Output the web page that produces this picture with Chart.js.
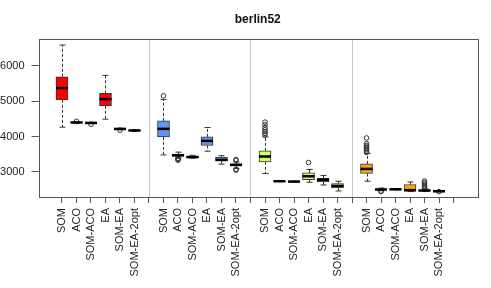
<!DOCTYPE html>
<html>
<head>
<meta charset="utf-8">
<script src="https://cdn.jsdelivr.net/npm/chart.js@4/dist/chart.umd.min.js"></script>
<style>
  html, body { margin: 0; padding: 0; background: #fff; }
  #wrap { width: 491px; height: 288px; }
</style>
</head>
<body>
<div id="wrap"><canvas id="chart" width="491" height="288"></canvas></div>
<script>
// methods per group, 4 groups (one colour each)
const methods = ['SOM', 'ACO', 'SOM-ACO', 'EA', 'SOM-EA', 'SOM-EA-2opt'];
const groupColors = ['#FF0000', '#6495ED', '#CAFF70', '#FFA500'];
const yTicks = [3000, 4000, 5000, 6000];

// box stats, 24 boxes in group order
const whiskerLow  = [4265, 4375, 4365, 4491, 4195, 4145,
                     3481, 3400, 3390, 3586, 3220, 3100,
                     2955, 2730, 2716, 2708, 2632, 2462,
                     2737, 2470, 2492, 2450, 2450, 2438];
const q1          = [5038, 4388, 4375, 4868, 4205, 4162,
                     3991, 3445, 3405, 3747, 3310, 3170,
                     3283, 2734, 2722, 2785, 2717, 2547,
                     2955, 2492, 2502, 2460, 2465, 2447];
const median      = [5369, 4398, 4385, 5057, 4215, 4172,
                     4217, 3470, 3420, 3877, 3340, 3200,
                     3436, 2737, 2728, 2878, 2774, 2604,
                     3085, 2505, 2510, 2485, 2475, 2454];
const q3          = [5689, 4408, 4392, 5219, 4224, 4182,
                     4443, 3500, 3438, 3991, 3420, 3230,
                     3594, 2741, 2734, 2972, 2822, 2672,
                     3226, 2518, 2518, 2645, 2490, 2460];
const whiskerHigh = [6586, 4420, 4400, 5728, 4235, 4192,
                     5049, 3560, 3470, 4256, 3460, 3280,
                     3990, 2745, 2740, 3068, 2898, 2737,
                     3521, 2545, 2528, 2717, 2520, 2470];
const outliers    = [[], [4430], [4345], [], [4180], [],
                     [5151], [3330, 3360, 3385], [], [], [], [3050, 3075, 3330, 3350],
                     [4040, 4090, 4140, 4190, 4250, 4330, 4407], [], [], [3266], [], [],
                     [3550, 3590, 3630, 3670, 3710, 3750, 3800, 3960], [2445, 2460], [], [], [2545, 2580, 2620, 2660, 2700, 2745], [2444]];

// position of box i on the x axis: 6 boxes then one empty slot per group
const posOf = i => Math.floor(i / 6) * 7 + (i % 6) + 1;

const boxes = median.map((m, i) => ({ x: posOf(i), y: [q1[i], q3[i]] }));
const boxColors = median.map((m, i) => groupColors[Math.floor(i / 6)]);
const outlierPts = [];
outliers.forEach((list, i) => list.forEach(v => outlierPts.push({ x: posOf(i), y: v })));

const BOX_W = 12;

const boxplotPlugin = {
  id: 'boxplot',
  beforeDatasetsDraw(chart) {
    const { ctx, chartArea, scales: { x, y } } = chart;
    ctx.save();
    // grey separators between groups
    ctx.strokeStyle = '#c8c8c8';
    ctx.lineWidth = 1;
    [7, 14, 21].forEach(p => {
      const px = Math.round(x.getPixelForValue(p)) + 0.5;
      ctx.beginPath();
      ctx.moveTo(px, chartArea.top);
      ctx.lineTo(px, chartArea.bottom);
      ctx.stroke();
    });
    // whiskers + staples
    ctx.strokeStyle = '#333';
    median.forEach((m, i) => {
      const px = Math.round(x.getPixelForValue(posOf(i))) + 0.5;
      const yl = y.getPixelForValue(whiskerLow[i]);
      const yq1 = y.getPixelForValue(q1[i]);
      const yq3 = y.getPixelForValue(q3[i]);
      const yh = y.getPixelForValue(whiskerHigh[i]);
      ctx.setLineDash([3, 2]);
      ctx.beginPath();
      ctx.moveTo(px, yq3); ctx.lineTo(px, yh);
      ctx.moveTo(px, yq1); ctx.lineTo(px, yl);
      ctx.stroke();
      ctx.setLineDash([]);
      ctx.beginPath();
      ctx.moveTo(px - BOX_W / 4, yh); ctx.lineTo(px + BOX_W / 4, yh);
      ctx.moveTo(px - BOX_W / 4, yl); ctx.lineTo(px + BOX_W / 4, yl);
      ctx.stroke();
    });
    ctx.restore();
  },
  afterDatasetsDraw(chart) {
    const { ctx, chartArea, scales: { x, y } } = chart;
    ctx.save();
    ctx.strokeStyle = '#000';
    ctx.lineWidth = 2.5;
    median.forEach((m, i) => {
      const px = x.getPixelForValue(posOf(i));
      const py = y.getPixelForValue(m);
      ctx.beginPath();
      ctx.moveTo(px - BOX_W / 2, py);
      ctx.lineTo(px + BOX_W / 2, py);
      ctx.stroke();
    });
    // plot frame
    ctx.strokeStyle = '#555';
    ctx.lineWidth = 1;
    ctx.strokeRect(Math.round(chartArea.left) + 0.5, Math.round(chartArea.top) + 0.5,
      Math.round(chartArea.right - chartArea.left), Math.round(chartArea.bottom - chartArea.top));
    ctx.restore();
  }
};

new Chart(document.getElementById('chart'), {
  type: 'bar',
  data: {
    datasets: [{
      label: 'box',
      data: boxes,
      backgroundColor: boxColors,
      borderColor: '#333',
      borderWidth: 1,
      borderSkipped: false,
      barThickness: BOX_W
    }, {
      type: 'scatter',
      label: 'outliers',
      data: outlierPts,
      pointStyle: 'circle',
      pointRadius: 2.3,
      backgroundColor: 'rgba(0,0,0,0)',
      borderColor: '#333',
      borderWidth: 1
    }]
  },
  plugins: [boxplotPlugin],
  options: {
    responsive: false,
    animation: false,
    devicePixelRatio: 1,
    layout: { padding: { top: 0.6, right: 14, left: 0, bottom: 0 } },
    plugins: {
      legend: { display: false },
      tooltip: { enabled: false },
      title: {
        display: true,
        text: 'berlin52',
        fullSize: false,
        color: '#111',
        font: { family: 'Liberation Sans, Arial, sans-serif', size: 12, weight: 'bold' },
        padding: { top: 12, bottom: 12 }
      }
    },
    scales: {
      x: {
        type: 'linear',
        offset: false,
        min: -0.62,
        max: 29.62,
        afterBuildTicks: s => { s.ticks = Array.from({ length: 28 }, (_, k) => ({ value: k + 1 })); },
        afterFit: s => { s.height = 91; s.paddingLeft = 0; s.paddingRight = 0; },
        grid: { display: true, offset: false, drawOnChartArea: false, drawTicks: true, tickLength: 6, color: '#555' },
        border: { display: false },
        ticks: {
          autoSkip: false,
          minRotation: 90,
          maxRotation: 90,
          padding: 5,
          color: '#222',
          font: { family: 'Liberation Sans, Arial, sans-serif', size: 11 },
          callback: v => (v % 7 === 0 ? '' : methods[(v % 7) - 1])
        }
      },
      y: {
        min: 2292,
        max: 6756,
        afterBuildTicks: s => { s.ticks = yTicks.map(v => ({ value: v })); },
        afterFit: s => { s.width = 38.5; s.paddingTop = 0; s.paddingBottom = 0; },
        grid: { display: true, drawOnChartArea: false, drawTicks: true, tickLength: 7, color: '#555' },
        border: { display: false },
        ticks: {
          padding: 7,
          color: '#222',
          font: { family: 'Liberation Sans, Arial, sans-serif', size: 11 },
          callback: v => String(v)
        }
      }
    }
  }
});
</script>
</body>
</html>
